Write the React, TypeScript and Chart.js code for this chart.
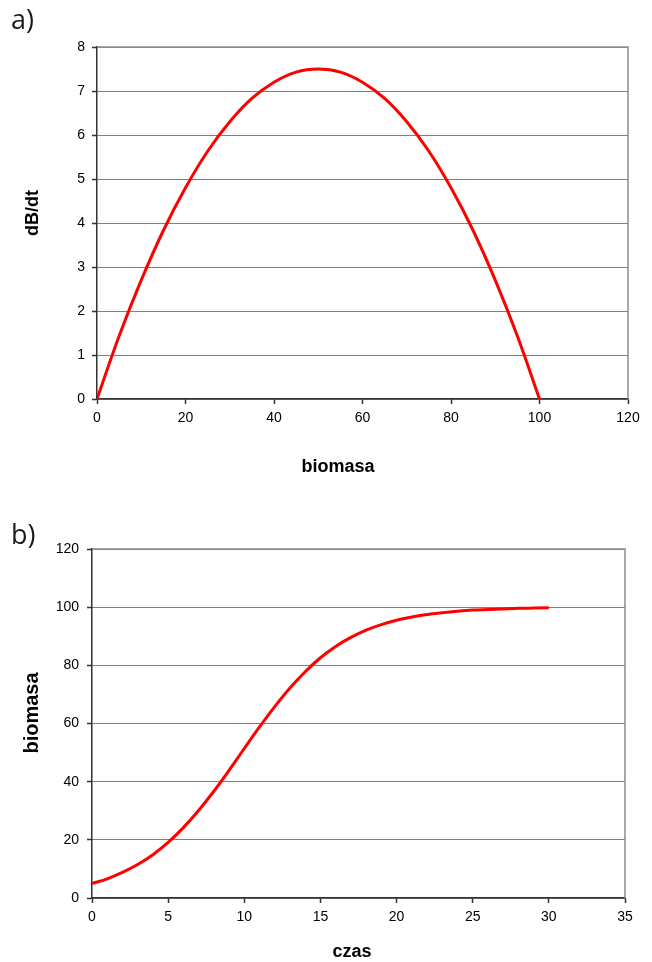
import { useEffect, useRef } from "react";
import { Chart, registerables } from "chart.js";

Chart.register(...registerables);

// ---- Data: panel a) growth rate vs biomass ----
const biomassA = [0, 5, 10, 15, 20, 25, 30, 35, 40, 45, 50, 55, 60, 65, 70, 75, 80, 85, 90, 95, 100];
const growthA = [0, 1.43, 2.7, 3.83, 4.8, 5.63, 6.3, 6.83, 7.2, 7.43, 7.5, 7.43, 7.2, 6.83, 6.3, 5.63, 4.8, 3.83, 2.7, 1.43, 0];

// ---- Data: panel b) biomass vs time ----
const timeB = [0, 1, 2, 3, 4, 5, 6, 7, 8, 9, 10, 11, 12, 13, 14, 15, 16, 17, 18, 19, 20, 21, 22, 23, 24, 25, 26, 27, 28, 29, 30];
const biomassB = [5, 6.6, 8.8, 11.5, 14.9, 19.1, 24.2, 30.1, 36.7, 43.9, 51.4, 58.8, 65.8, 72.2, 77.8, 82.6, 86.5, 89.6, 92.1, 94.0, 95.5, 96.6, 97.5, 98.1, 98.6, 99.0, 99.2, 99.4, 99.6, 99.7, 99.8];

// ---- Axis ranges / tick steps ----
const xRangeA = { min: 0, max: 120, step: 20 };
const yRangeA = { min: 0, max: 8, step: 1 };
const xRangeB = { min: 0, max: 35, step: 5 };
const yRangeB = { min: 0, max: 120, step: 20 };

// ---- Texts ----
const panelLabels = ["a)", "b)"];
const xTitleA = "biomasa";
const yTitleA = "dB/dt";
const xTitleB = "czas";
const yTitleB = "biomasa";

const TICK_FONT = { family: "'Liberation Sans', Arial, sans-serif", size: 14 };
const AXIS_COLOR = "#333333";

type TitleSpec = { text: string; x: number; y: number; rotate: boolean; size: number };

function titlesPlugin(items: TitleSpec[]) {
  return {
    id: "axisTitles",
    afterDraw(chart: any) {
      const ctx = chart.ctx as CanvasRenderingContext2D;
      for (const t of items) {
        ctx.save();
        ctx.font = `bold ${t.size}px 'Liberation Sans', Arial, sans-serif`;
        ctx.fillStyle = "#000";
        ctx.textAlign = "center";
        ctx.textBaseline = "alphabetic";
        ctx.translate(t.x, t.y);
        if (t.rotate) ctx.rotate(-Math.PI / 2);
        ctx.fillText(t.text, 0, 0);
        ctx.restore();
      }
    },
  };
}

const framePlugin = {
  id: "frame",
  beforeDatasetsDraw(chart: any) {
    const { ctx, chartArea } = chart;
    const { left, right, top, bottom } = chartArea;
    ctx.save();
    ctx.strokeStyle = "#8c8c8c";
    ctx.lineWidth = 1.5;
    ctx.beginPath();
    ctx.moveTo(left, top);
    ctx.lineTo(right, top);
    ctx.lineTo(right, bottom);
    ctx.stroke();
    ctx.restore();
  },
};

function makeConfig(opts: {
  xs: number[];
  ys: number[];
  xr: { min: number; max: number; step: number };
  yr: { min: number; max: number; step: number };
  yWidth: number;
  xHeight: number;
  padTop: number;
  padRight: number;
  yPad: number;
  titles: TitleSpec[];
}): any {
  return {
    type: "line",
    data: {
      datasets: [
        {
          data: opts.xs.map((x, i) => ({ x, y: opts.ys[i] })),
          borderColor: "#ff0000",
          borderWidth: 3,
          pointRadius: 0,
          fill: false,
          cubicInterpolationMode: "monotone",
        },
      ],
    },
    options: {
      animation: false,
      responsive: false,
      devicePixelRatio: 1,
      layout: { padding: { left: 0, right: opts.padRight, top: opts.padTop, bottom: 0 } },
      plugins: { legend: { display: false }, tooltip: { enabled: false } },
      scales: {
        x: {
          type: "linear",
          min: opts.xr.min,
          max: opts.xr.max,
          afterFit(scale: any) {
            scale.height = opts.xHeight;
          },
          ticks: { stepSize: opts.xr.step, color: "#000", font: TICK_FONT, padding: 6, maxRotation: 0 },
          grid: {
            drawOnChartArea: false,
            drawTicks: true,
            tickLength: 5,
            tickColor: AXIS_COLOR,
            tickWidth: 1.5,
          },
          border: { color: AXIS_COLOR, width: 1.5 },
        },
        y: {
          type: "linear",
          min: opts.yr.min,
          max: opts.yr.max,
          afterFit(scale: any) {
            scale.width = opts.yWidth;
          },
          ticks: { stepSize: opts.yr.step, color: "#000", font: TICK_FONT, padding: opts.yPad },
          grid: {
            color: "#000000",
            lineWidth: 1,
            drawTicks: true,
            tickLength: 5,
            tickColor: AXIS_COLOR,
            tickWidth: 1.5,
            tickBorderDash: [],
            borderDash: [1, 1],
          },
          border: { color: AXIS_COLOR, width: 1.5, dash: [1, 1] },
        },
      },
    },
    plugins: [framePlugin, titlesPlugin(opts.titles)],
  };
}

function ChartCanvas({ config, width, height, top }: { config: any; width: number; height: number; top: number }) {
  const ref = useRef<HTMLCanvasElement | null>(null);
  useEffect(() => {
    if (!ref.current) return;
    const chart = new Chart(ref.current, config);
    return () => chart.destroy();
  }, [config]);
  return (
    <canvas
      ref={ref}
      width={width}
      height={height}
      style={{ position: "absolute", left: 0, top, width, height }}
    />
  );
}

const configA = makeConfig({
  xs: biomassA,
  ys: growthA,
  xr: xRangeA,
  yr: yRangeA,
  yWidth: 97,
  xHeight: 91,
  padTop: 47,
  padRight: 24,
  yPad: 7,
  titles: [
    { text: xTitleA, x: 338, y: 472, rotate: false, size: 18 },
    { text: yTitleA, x: 38, y: 213, rotate: true, size: 18 },
  ],
});

const configB = makeConfig({
  xs: timeB,
  ys: biomassB,
  xr: xRangeB,
  yr: yRangeB,
  yWidth: 92,
  xHeight: 64,
  padTop: 59,
  padRight: 27,
  yPad: 8,
  titles: [
    { text: xTitleB, x: 352, y: 467, rotate: false, size: 18 },
    { text: yTitleB, x: 38, y: 223, rotate: true, size: 20 },
  ],
});

export default function App() {
  const labelStyle = {
    position: "absolute" as const,
    left: 11,
    fontFamily: "'Open Sans', sans-serif",
    fontSize: 27,
    lineHeight: 1,
    color: "#1a1a1a",
  };
  return (
    <div style={{ position: "absolute", left: 0, top: 0, width: 652, height: 962, background: "#fff" }}>
      <ChartCanvas config={configA} width={652} height={490} top={0} />
      <ChartCanvas config={configB} width={652} height={472} top={490} />
      <div style={{ ...labelStyle, top: 5 }}>{panelLabels[0]}</div>
      <div style={{ ...labelStyle, top: 520 }}>{panelLabels[1]}</div>
    </div>
  );
}
